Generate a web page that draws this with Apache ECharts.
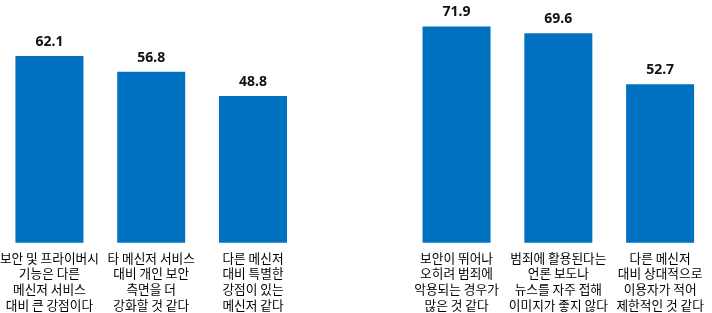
<!DOCTYPE html>
<html>
<head>
<meta charset="utf-8">
<script src="https://cdn.jsdelivr.net/npm/echarts@6/dist/echarts.min.js"></script>
<style>html,body{margin:0;padding:0;background:#fff;overflow:hidden}#c{position:absolute;left:-3px;top:0;width:715px;height:313px}</style>
</head>
<body>
<div id="c"></div>
<script>
var categories = [
  '보안 및 프라이버시\n기능은 다른\n메신저 서비스\n대비 큰 강점이다',
  '타 메신저 서비스\n대비 개인 보안\n측면을 더\n강화할 것 같다',
  '다른 메신저\n대비 특별한\n강점이 있는\n메신저 같다',
  '',
  '보안이 뛰어나\n오히려 범죄에\n악용되는 경우가\n많은 것 같다',
  '범죄에 활용된다는\n언론 보도나\n뉴스를 자주 접해\n이미지가 좋지 않다',
  '다른 메신저\n대비 상대적으로\n이용자가 적어\n제한적인 것 같다'
];
var values = [62.1, 56.8, 48.8, null, 71.9, 69.6, 52.7];

var chart = echarts.init(document.getElementById('c'));
chart.setOption({
  animation: false,
  grid: { left: 0, right: 1, top: 2, bottom: 70, containLabel: false },
  xAxis: {
    type: 'category',
    data: categories,
    axisLine: { show: false },
    axisTick: { show: false },
    axisLabel: {
      interval: 0,
      margin: 7,
      color: '#000',
      fontSize: 12.7,
      lineHeight: 15.8,
      fontFamily: 'Noto Sans CJK KR',
      align: 'center',
      verticalAlign: 'top'
    }
  },
  yAxis: {
    type: 'value',
    min: 0,
    max: 80,
    show: false,
    splitLine: { show: false }
  },
  series: [{
    type: 'bar',
    data: values,
    barWidth: 68,
    itemStyle: { color: '#0070C0' },
    label: {
      show: true,
      position: 'top',
      distance: 7,
      color: '#111',
      fontSize: 14,
      fontWeight: 'bold',
      fontFamily: 'Noto Sans',
      formatter: function (p) { return p.value == null ? '' : p.value.toFixed(1); }
    }
  }]
});
</script>
</body>
</html>
